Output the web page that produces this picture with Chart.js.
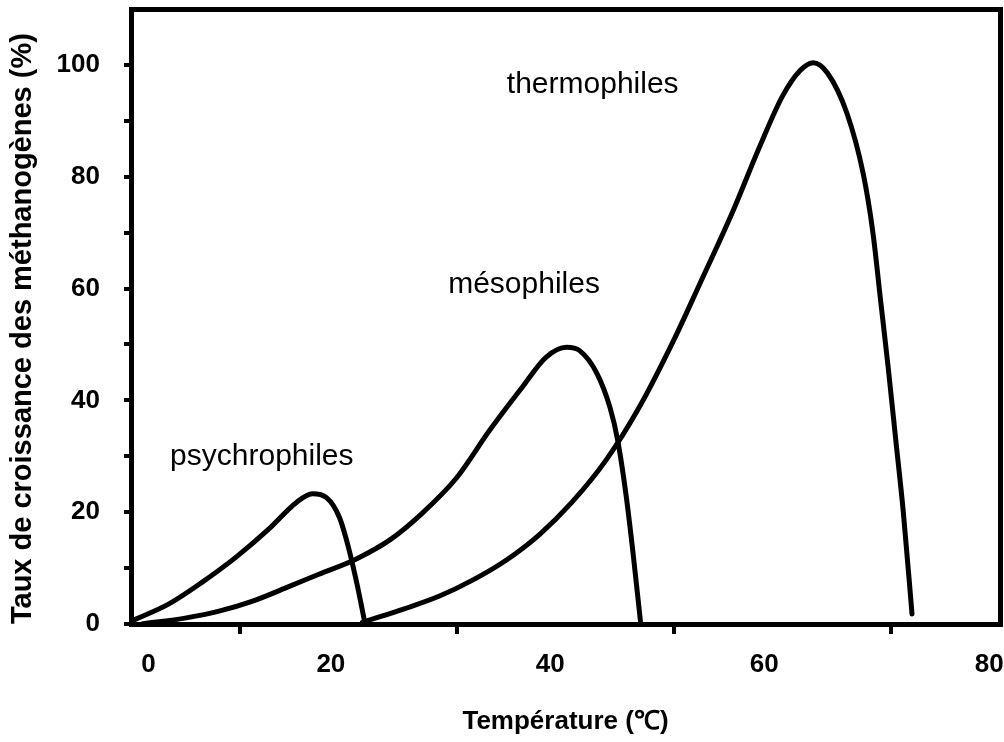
<!DOCTYPE html>
<html>
<head>
<meta charset="utf-8">
<script src="https://cdn.jsdelivr.net/npm/chart.js@4/dist/chart.umd.min.js"></script>
<style>
  html, body { margin: 0; padding: 0; background: #ffffff; }
  #wrap { width: 1004px; height: 742px; }
</style>
</head>
<body>
<div id="wrap"><canvas id="c" width="1004" height="742"></canvas></div>
<script>
// ---- Data (temperature in °C, growth rate in %) ----
const psychroT = [0, 3.5, 6.5, 9.7, 12.7, 15.2, 16.7, 18.0, 19.2, 20.1, 20.8, 21.5];
const psychroV = [0.5, 3.6, 7.4, 12.0, 17.0, 21.7, 23.3, 22.6, 19.0, 13.1, 7.2, 0.5];

const mesoT = [1, 5.1, 8.1, 11.2, 14.3, 17.3, 20.7, 23.8, 26.8, 30.0, 33.0, 36.0, 38.2, 40.1, 41.3, 42.9, 44.1, 44.8, 45.6, 46.2, 46.9];
const mesoV = [0, 1.1, 2.3, 4.1, 6.5, 8.9, 11.6, 15.0, 19.8, 26.2, 34.6, 42.3, 47.7, 49.5, 48.9, 44.8, 38.7, 32.9, 22.7, 13.0, 0.5];

const thermoT = [21.3, 25.3, 28.4, 31.4, 34.6, 37.6, 40.6, 43.8, 46.8, 49.9, 52.4, 55.4, 57.9, 60.0, 61.6, 62.8, 64.1, 65.9, 67.4, 68.3, 69.0, 69.7, 70.4, 71.1, 71.9];
const thermoV = [0.3, 2.8, 5.0, 7.8, 11.5, 16.0, 21.8, 29.5, 38.8, 50.5, 61.0, 73.8, 85.5, 94.5, 99.0, 100.4, 98.6, 91.4, 80.6, 70.0, 58.0, 46.0, 33.0, 20.0, 1.8];

// ---- Axis ticks and labels ----
const xTickMarks = [10, 30, 50, 70];
const xTickLabels = ['0', '20', '40', '60', '80'];
const xLabelAt = [1.6, 18.4, 38.6, 58.3, 79.0];   // where the reference prints its x labels
const yTickValues = [0, 10, 20, 30, 40, 50, 60, 70, 80, 90, 100];
const yLabelEvery = 20;

// ---- Curve names and their anchor (T, %) ----
const curveNames = ['psychrophiles', 'mésophiles', 'thermophiles'];
const nameAtT = [3.6, 29.2, 34.6];
const nameAtV = [28.4, 59.2, 95.0];

const xTitle = 'Température (℃)';
const yTitle = 'Taux de croissance des méthanogènes (%)   ';

const FAMILY = '"Liberation Sans", Arial, Helvetica, sans-serif';
Chart.defaults.font.family = FAMILY;
Chart.defaults.color = '#000';

function pts(T, V) { return T.map((t, i) => ({ x: t, y: V[i] })); }

function lineDs(label, T, V) {
  return {
    label: label,
    data: pts(T, V),
    borderColor: '#000',
    borderWidth: 5,
    pointRadius: 0,
    cubicInterpolationMode: 'monotone',
    borderCapStyle: 'round',
    borderJoinStyle: 'round',
    fill: false
  };
}

function noPad(s) { s.paddingLeft = 0; s.paddingRight = 0; s.paddingTop = 0; s.paddingBottom = 0; }

const namesPlugin = {
  id: 'curveNames',
  afterDatasetsDraw(chart) {
    const ctx = chart.ctx;
    const xs = chart.scales.x, ys = chart.scales.y;
    ctx.save();
    ctx.font = '30px ' + FAMILY;
    ctx.fillStyle = '#000';
    ctx.textAlign = 'left';
    ctx.textBaseline = 'alphabetic';
    curveNames.forEach((n, i) => {
      ctx.fillText(n, xs.getPixelForValue(nameAtT[i]), ys.getPixelForValue(nameAtV[i]));
    });
    ctx.restore();
  }
};

const bgPlugin = {
  id: 'bg',
  beforeDraw(chart) {
    const ctx = chart.ctx;
    ctx.save();
    ctx.fillStyle = '#fff';
    ctx.fillRect(0, 0, chart.width, chart.height);
    ctx.restore();
  }
};

new Chart(document.getElementById('c'), {
  type: 'line',
  data: {
    datasets: [
      lineDs(curveNames[0], psychroT, psychroV),
      lineDs(curveNames[1], mesoT, mesoV),
      lineDs(curveNames[2], thermoT, thermoV)
    ]
  },
  plugins: [bgPlugin, namesPlugin],
  options: {
    responsive: false,
    animation: false,
    devicePixelRatio: 1,
    layout: { padding: { top: 9, right: 4, left: 0, bottom: 0 } },
    plugins: { legend: { display: false }, tooltip: { enabled: false } },
    scales: {
      x: {
        type: 'linear', position: 'bottom', weight: 0, min: 0, max: 80,
        afterBuildTicks: s => { s.ticks = xTickMarks.map(v => ({ value: v })); },
        ticks: { display: false },
        grid: { display: true, drawOnChartArea: false, drawTicks: true, tickLength: 10, lineWidth: 4, color: '#000' },
        border: { display: true, width: 5, color: '#000' },
        afterFit: s => { s.height = 12; noPad(s); }
      },
      xl: {
        type: 'linear', position: 'bottom', weight: 1, min: 0, max: 80,
        afterBuildTicks: s => { s.ticks = xLabelAt.map(v => ({ value: v })); },
        ticks: {
          autoSkip: false, maxRotation: 0, padding: 5, color: '#000',
          font: { size: 26, weight: 'bold' },
          callback: (v, i) => xTickLabels[i]
        },
        grid: { display: false },
        border: { display: false },
        title: { display: true, text: xTitle, color: '#000', font: { size: 26, weight: 'bold' }, padding: { top: 0, bottom: 5 } },
        afterFit: s => { s.height = 742 - 624 - 12; noPad(s); }
      },
      xTop: {
        type: 'linear', position: 'top', min: 0, max: 80,
        ticks: { display: false },
        grid: { display: false, lineWidth: 5 },
        border: { display: true, width: 5, color: '#000' },
        afterFit: s => { s.height = 0; noPad(s); }
      },
      y: {
        type: 'linear', position: 'left', min: 0, max: 110,
        afterBuildTicks: s => { s.ticks = yTickValues.map(v => ({ value: v })); },
        ticks: {
          padding: 24, color: '#000', font: { size: 26, weight: 'bold' },
          callback: v => (v % yLabelEvery === 0 ? String(v) : '')
        },
        grid: { display: true, drawOnChartArea: false, drawTicks: true, tickLength: 7, lineWidth: 4, color: '#000' },
        border: { display: true, width: 5, color: '#000' },
        title: { display: true, text: yTitle, color: '#000', font: { size: 29, weight: 'bold' }, padding: { top: 6, bottom: 0 } },
        afterFit: s => { s.width = 131; noPad(s); }
      },
      yRight: {
        type: 'linear', position: 'right', min: 0, max: 110,
        ticks: { display: false },
        grid: { display: false, lineWidth: 5 },
        border: { display: true, width: 5, color: '#000' },
        afterFit: s => { s.width = 0; noPad(s); }
      }
    }
  }
});
</script>
</body>
</html>
